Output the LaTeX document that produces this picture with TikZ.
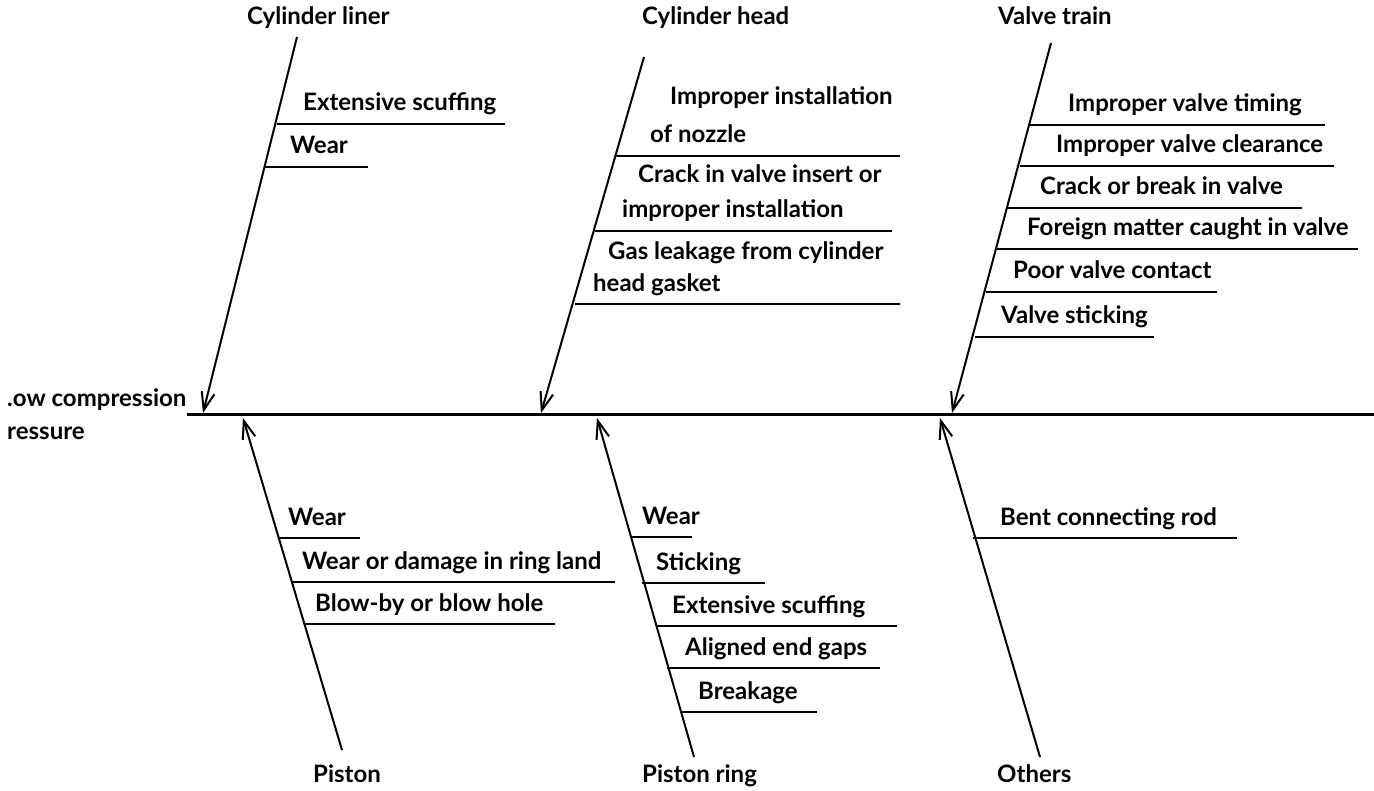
\documentclass[tikz,border=0pt]{standalone}
\usepackage{fontspec}
\setmainfont{Lato}
\usetikzlibrary{arrows.meta}
\tikzset{
  lbl/.style={anchor=base west, inner sep=0pt, font=\fontsize{24}{27}\selectfont\bfseries},
  bone/.style={line width=2pt},
  spine/.style={line width=3pt},
  under/.style={line width=2.4pt},
}
\begin{document}
\begin{tikzpicture}[x=1pt,y=-1pt,>={Straight Barb[length=18pt,width=13pt,line width=2pt]}]
	\useasboundingbox (0,0) rectangle (1374,791);
	% effect and spine
	\node[lbl] (eff1) at (7,407) {.ow compression};
	\node[lbl] (eff2) at (7,440) {ressure};
	\coordinate (spineL) at (187,415);
	\coordinate (spineR) at (1374,415);
	\draw[spine] (spineL) -- (spineR);
	% main bones, top
	\node[lbl] (liner) at (247,25) {Cylinder liner};
	\coordinate (linerT) at (297,37);
	\coordinate (linerE) at (203,413);
	\draw[bone,->] (linerT) -- (linerE);
	\node[lbl] (head) at (642,25) {Cylinder head};
	\coordinate (headT) at (644,57);
	\coordinate (headE) at (541,413);
	\draw[bone,->] (headT) -- (headE);
	\node[lbl] (valve) at (998,25) {Valve train};
	\coordinate (valveT) at (1051,43);
	\coordinate (valveE) at (952,413);
	\draw[bone,->] (valveT) -- (valveE);
	% main bones, bottom
	\node[lbl] (piston) at (313,782) {Piston};
	\coordinate (pistonT) at (342,750);
	\coordinate (pistonE) at (243,418);
	\draw[bone,->] (pistonT) -- (pistonE);
	\node[lbl] (ring) at (642,782) {Piston ring};
	\coordinate (ringT) at (694,757);
	\coordinate (ringE) at (597,418);
	\draw[bone,->] (ringT) -- (ringE);
	\node[lbl] (others) at (997,782) {Others};
	\coordinate (othersT) at (1040,757);
	\coordinate (othersE) at (940,418);
	\draw[bone,->] (othersT) -- (othersE);
	% causes, one line
	\foreach \y/\a/\b/\t/\txt in {
		124/277/505/303/Extensive scuffing,
		167/265/368/290/Wear,
		125/1030/1325/1068/Improper valve timing,
		166/1020/1334/1056/Improper valve clearance,
		208/1007/1302/1040/Crack or break in valve,
		249/997/1358/1027/Foreign matter caught in valve,
		292/986/1217/1013/Poor valve contact,
		337/975/1154/1001/Valve sticking,
		538/280/360/288/Wear,
		582/292/615/302/Wear or damage in ring land,
		624/305/555/315/Blow-by or blow hole,
		537/630/692/642/Wear,
		583/642/765/656/Sticking,
		626/656/897/672/Extensive scuffing,
		668/667/880/685/Aligned end gaps,
		712/680/817/698/Breakage,
		538/973/1237/1000/Bent connecting rod}
	{
		\draw[under] (\a,\y) -- (\b,\y);
		\node[lbl] (c-\a-\y) at (\t,\y-13) {\txt};
	}
	% causes, two lines
	\draw[under] (616,156) -- (900,156);
	\node[lbl] (noz1) at (670,105) {Improper installation};
	\node[lbl] (noz2) at (650,143) {of nozzle};
	\draw[under] (595,231) -- (892,231);
	\node[lbl] (ins1) at (638,183) {Crack in valve insert or};
	\node[lbl] (ins2) at (622,218) {improper installation};
	\draw[under] (575,304) -- (900,304);
	\node[lbl] (gas1) at (608,260) {Gas leakage from cylinder};
	\node[lbl] (gas2) at (593,292) {head gasket};
\end{tikzpicture}
\end{document}
